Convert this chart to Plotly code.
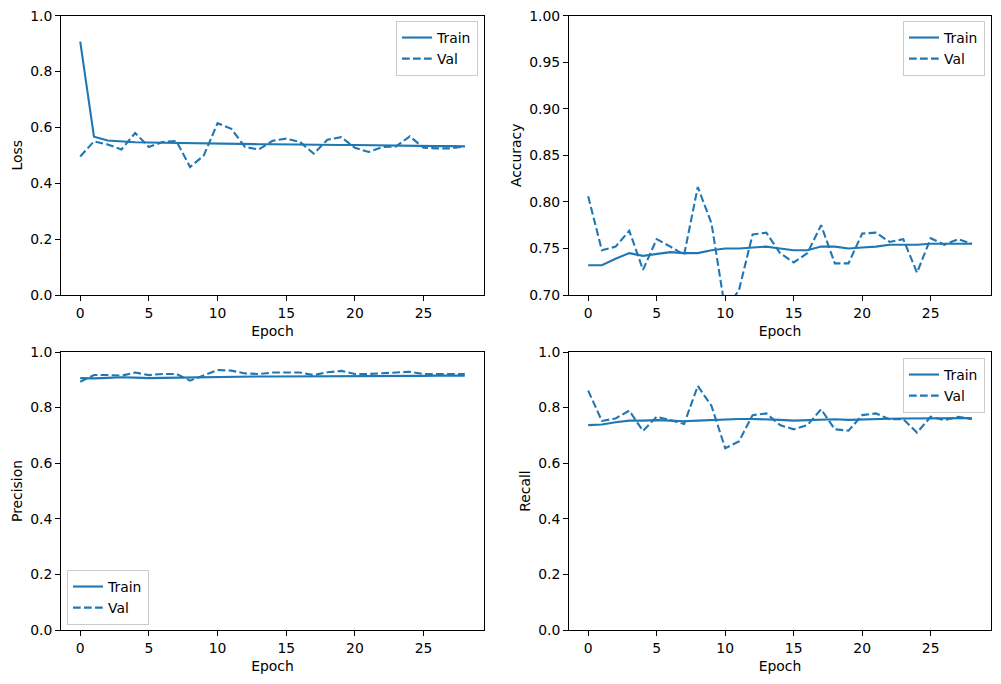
import plotly.graph_objects as go

epochs = list(range(29))

loss_train = [0.907, 0.567, 0.553, 0.549, 0.547, 0.546, 0.545, 0.545, 0.544, 0.543,
              0.543, 0.542, 0.541, 0.540, 0.540, 0.539, 0.539, 0.538, 0.538, 0.537,
              0.537, 0.536, 0.536, 0.535, 0.535, 0.534, 0.533, 0.533, 0.532]
loss_val = [0.496, 0.550, 0.539, 0.521, 0.580, 0.530, 0.548, 0.551, 0.458, 0.500,
            0.615, 0.595, 0.530, 0.521, 0.552, 0.560, 0.548, 0.506, 0.556, 0.565,
            0.527, 0.512, 0.530, 0.532, 0.568, 0.527, 0.525, 0.525, 0.532]

acc_train = [0.732, 0.732, 0.739, 0.745, 0.742, 0.744, 0.746, 0.745, 0.745, 0.748,
             0.750, 0.750, 0.751, 0.752, 0.750, 0.748, 0.748, 0.752, 0.752, 0.750,
             0.751, 0.752, 0.754, 0.754, 0.754, 0.755, 0.755, 0.755, 0.755]
acc_val = [0.806, 0.748, 0.752, 0.769, 0.727, 0.760, 0.752, 0.743, 0.816, 0.777,
           0.684, 0.705, 0.765, 0.767, 0.745, 0.735, 0.745, 0.775, 0.734, 0.734,
           0.766, 0.767, 0.757, 0.760, 0.724, 0.761, 0.754, 0.760, 0.755]

prec_train = [0.906, 0.905, 0.907, 0.909, 0.908, 0.906, 0.907, 0.908, 0.909, 0.908,
              0.910, 0.911, 0.911, 0.912, 0.912, 0.912, 0.913, 0.912, 0.913, 0.913,
              0.913, 0.913, 0.914, 0.914, 0.914, 0.914, 0.915, 0.914, 0.915]
prec_val = [0.893, 0.917, 0.917, 0.915, 0.926, 0.917, 0.921, 0.921, 0.897, 0.917,
            0.935, 0.933, 0.923, 0.921, 0.926, 0.926, 0.926, 0.917, 0.927, 0.932,
            0.921, 0.921, 0.923, 0.925, 0.929, 0.921, 0.921, 0.921, 0.921]

rec_train = [0.737, 0.739, 0.747, 0.753, 0.753, 0.755, 0.753, 0.751, 0.753, 0.755,
             0.758, 0.759, 0.759, 0.758, 0.756, 0.753, 0.754, 0.757, 0.758, 0.756,
             0.758, 0.759, 0.760, 0.761, 0.761, 0.762, 0.763, 0.762, 0.762]
rec_val = [0.861, 0.752, 0.761, 0.789, 0.716, 0.767, 0.755, 0.741, 0.878, 0.806,
           0.654, 0.678, 0.773, 0.779, 0.737, 0.722, 0.737, 0.794, 0.722, 0.717,
           0.773, 0.779, 0.758, 0.758, 0.710, 0.767, 0.755, 0.767, 0.758]

panels = [
    ("Loss", loss_train, loss_val, [0, 1], [0, 0.2, 0.4, 0.6, 0.8, 1.0], ".1f"),
    ("Accuracy", acc_train, acc_val, [0.7, 1.0], [0.70, 0.75, 0.80, 0.85, 0.90, 0.95, 1.00], ".2f"),
    ("Precision", prec_train, prec_val, [0, 1], [0, 0.2, 0.4, 0.6, 0.8, 1.0], ".1f"),
    ("Recall", rec_train, rec_val, [0, 1], [0, 0.2, 0.4, 0.6, 0.8, 1.0], ".1f"),
]

W, H = 1001, 684
xdoms = [[61 / W, 484 / W], [569 / W, 991 / W]]
ydoms = [[1 - 295 / H, 1 - 15.7 / H], [1 - 630 / H, 1 - 352 / H]]

legend_pos = [
    dict(x=478 / W, y=1 - 21 / H, xanchor="right", yanchor="top"),
    dict(x=985 / W, y=1 - 21 / H, xanchor="right", yanchor="top"),
    dict(x=67 / W, y=1 - 625 / H, xanchor="left", yanchor="bottom"),
    dict(x=985 / W, y=1 - 358 / H, xanchor="right", yanchor="top"),
]

color = "#1f77b4"
font = "DejaVu Sans"
fig = go.Figure()
layout = dict(
    width=W, height=H,
    margin=dict(l=0, r=0, t=0, b=0),
    paper_bgcolor="white", plot_bgcolor="white",
    font=dict(family=font, size=14, color="black"),
)

for i, (name, tr, va, yr, yt, fmt) in enumerate(panels):
    n = i + 1
    xa = "x" if n == 1 else f"x{n}"
    ya = "y" if n == 1 else f"y{n}"
    leg = "legend" if n == 1 else f"legend{n}"
    fig.add_trace(go.Scatter(x=epochs, y=tr, mode="lines", name="Train",
                             line=dict(color=color, width=2.1),
                             xaxis=xa, yaxis=ya, legend=leg))
    fig.add_trace(go.Scatter(x=epochs, y=va, mode="lines", name="Val",
                             line=dict(color=color, width=2.1, dash="7.7px,3.3px"),
                             xaxis=xa, yaxis=ya, legend=leg))
    r, c = divmod(i, 2)
    axcommon = dict(showline=True, linecolor="black", linewidth=1, mirror=True,
                    ticks="outside", ticklen=5, tickwidth=1, tickcolor="black",
                    showgrid=False, zeroline=False, automargin=False,
                    tickfont=dict(family=font, size=13.9, color="black"))
    layout["xaxis" if n == 1 else f"xaxis{n}"] = dict(
        domain=xdoms[c], anchor=ya, range=[-1.4, 29.4],
        tickvals=[0, 5, 10, 15, 20, 25],
        title=dict(text="Epoch", font=dict(family=font, size=13.9), standoff=6),
        **axcommon)
    layout["yaxis" if n == 1 else f"yaxis{n}"] = dict(
        domain=ydoms[r], anchor=xa, range=yr, tickvals=yt, tickformat=fmt,
        title=dict(text=name, font=dict(family=font, size=13.9), standoff=4),
        **axcommon)
    layout[leg] = dict(bgcolor="rgba(255,255,255,0.8)", bordercolor="#cccccc",
                       borderwidth=1, font=dict(family=font, size=13.9),
                       itemwidth=30, tracegroupgap=0, **legend_pos[i])

fig.update_layout(**layout)
fig.write_html("out.html")
